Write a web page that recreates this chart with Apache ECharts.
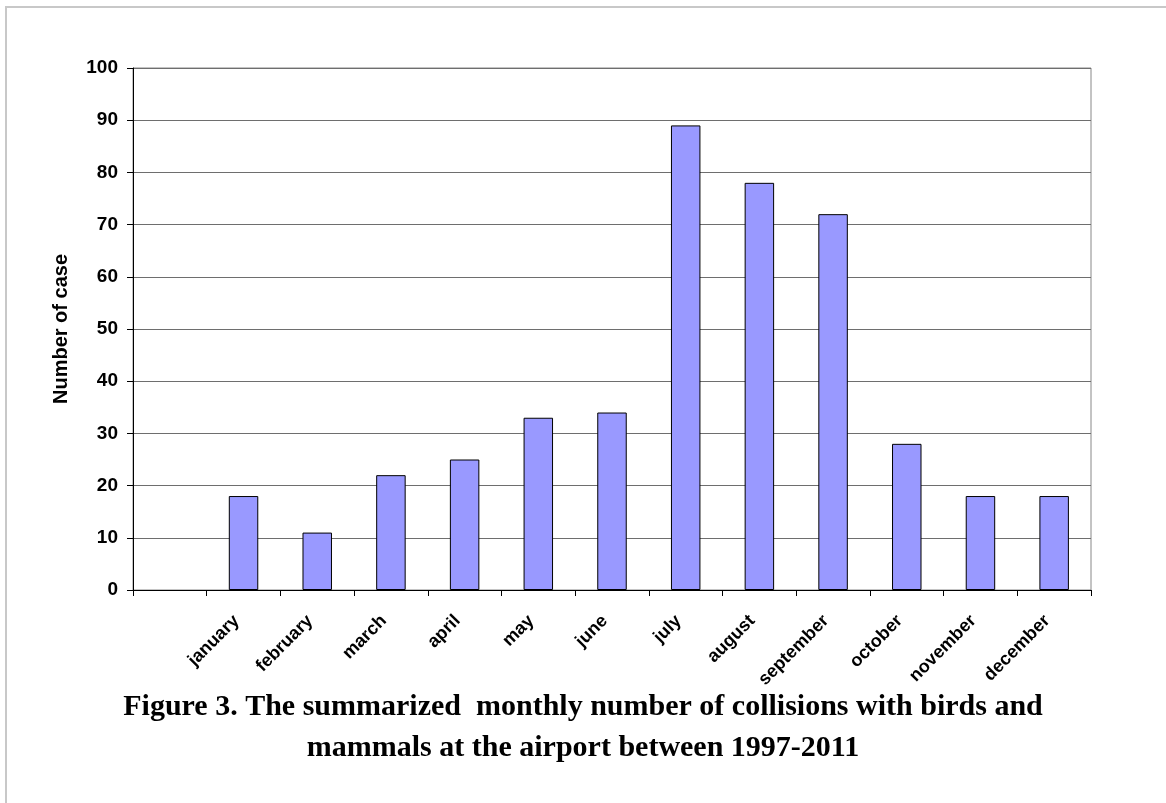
<!DOCTYPE html>
<html>
<head>
<meta charset="utf-8">
<script src="https://cdn.jsdelivr.net/npm/echarts@6/dist/echarts.min.js"></script>
<style>
  html, body { margin: 0; padding: 0; background: #fff; }
  .frame {
    position: absolute; left: 5px; top: 6px; width: 1161px; height: 797px;
    border-left: 2px solid #c8c8c8; border-top: 2px solid #c8c8c8;
  }
  #chart { position: absolute; left: 0; top: 0; width: 1166px; height: 803px; }
</style>
</head>
<body>
<div class="frame"></div>
<div id="chart"></div>
<script>
// first slot is empty, like the source sheet
const months = ['', 'january', 'february', 'march', 'april', 'may', 'june', 'july', 'august', 'september', 'october', 'november', 'december']
const cases = [null, 18, 11, 22, 25, 33, 34, 89, 78, 72, 28, 18, 18]
const yTicks = { min: 0, max: 100, step: 10 }

let chart = echarts.init(document.getElementById('chart'))
chart.setOption({
  animation: false,
  title: {
    text: 'Figure 3. The summarized  monthly number of collisions with birds and\nmammals at the airport between 1997-2011',
    left: 'center',
    top: 682,
    textStyle: {
      fontFamily: 'Liberation Serif',
      fontWeight: 'bold',
      fontSize: 30,
      lineHeight: 41,
      color: '#000'
    }
  },
  grid: {
    left: 133,
    right: 75,
    top: 68,
    bottom: 213,
    show: true,
    borderColor: '#888',
    borderWidth: 1
  },
  xAxis: {
    type: 'category',
    data: months,
    axisLine: { lineStyle: { color: '#000', width: 1 } },
    axisTick: { show: true, interval: 0, length: 6, lineStyle: { color: '#000' } },
    axisLabel: {
      interval: 0,
      rotate: 45,
      margin: 21,
      padding: [0, 10, 0, 0],
      fontFamily: 'Liberation Sans',
      fontWeight: 'bold',
      fontSize: 18,
      color: '#000'
    },
    splitLine: { show: false }
  },
  yAxis: {
    type: 'value',
    min: yTicks.min,
    max: yTicks.max,
    interval: yTicks.step,
    name: 'Number of case',
    nameLocation: 'middle',
    nameRotate: 90,
    nameGap: 62,
    nameTextStyle: {
      fontFamily: 'Liberation Sans',
      fontWeight: 'bold',
      fontSize: 20,
      color: '#000'
    },
    axisLine: { show: true, lineStyle: { color: '#000', width: 1 } },
    axisTick: { show: true, length: 6, lineStyle: { color: '#000' } },
    axisLabel: {
      margin: 15,
      fontFamily: 'Liberation Sans',
      fontWeight: 'bold',
      fontSize: 19,
      color: '#000'
    },
    splitLine: { show: true, lineStyle: { color: '#6e6e6e', width: 1 } }
  },
  series: [
    {
      name: 'Number of case',
      type: 'bar',
      barWidth: '40%',
      data: cases,
      itemStyle: {
        color: '#9999ff',
        borderColor: '#000',
        borderWidth: 1
      }
    }
  ]
})
</script>
</body>
</html>
